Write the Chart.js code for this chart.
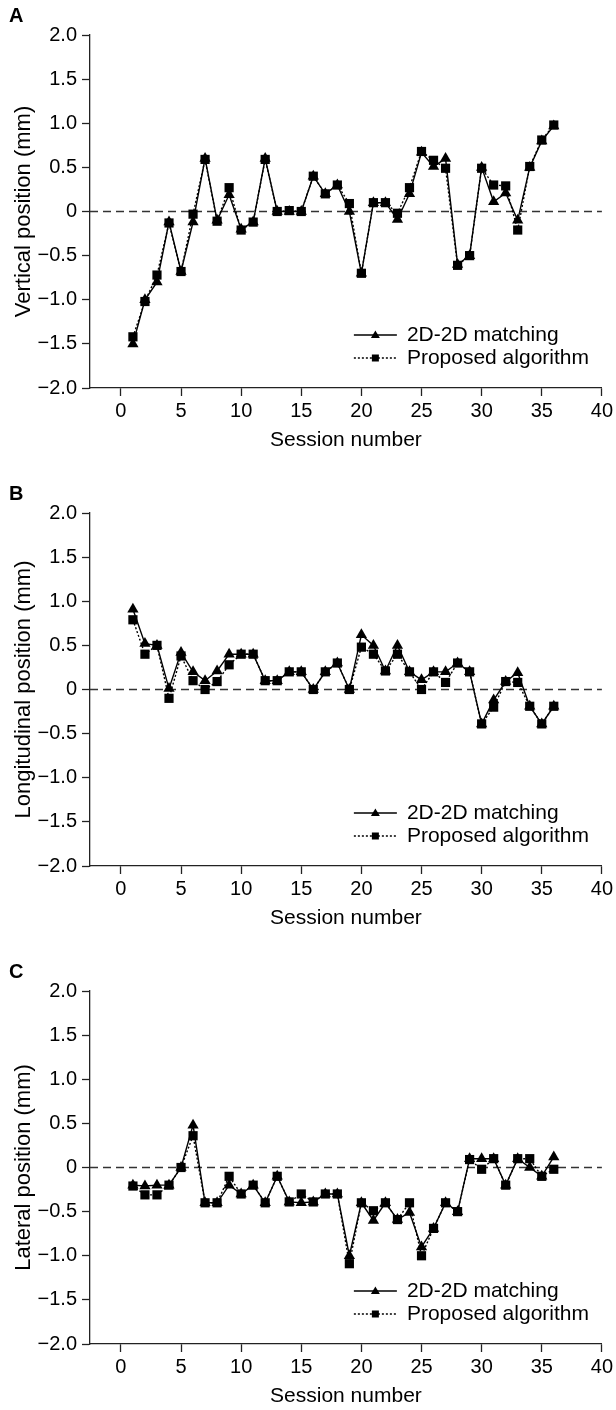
<!DOCTYPE html>
<html>
<head>
<meta charset="utf-8">
<script src="https://cdn.jsdelivr.net/npm/chart.js@4.4.0/dist/chart.umd.min.js"></script>
<style>
    html, body { margin: 0; padding: 0; background: #fff; overflow: hidden; }
    .panel { position: absolute; left: 0; width: 616px; height: 454px; }
</style>
</head>
<body>
<div class="panel" style="top:0"><canvas id="chartA"></canvas></div>
<div class="panel" style="top:478px"><canvas id="chartB"></canvas></div>
<div class="panel" style="top:956px"><canvas id="chartC"></canvas></div>
<script>
const sessions = [1, 2, 3, 4, 5, 6, 7, 8, 9, 10, 11, 12, 13, 14, 15, 16, 17, 18,
    19, 20, 21, 22, 23, 24, 25, 26, 27, 28, 29, 30, 31, 32, 33, 34, 35, 36];

const xTicks = [0, 5, 10, 15, 20, 25, 30, 35, 40];
const yTickLabels = ['\u22122.0', '\u22121.5', '\u22121.0', '\u22120.5', '0', '0.5', '1.0', '1.5', '2.0'];

const seriesNames = ['2D-2D matching', 'Proposed algorithm'];

// A - vertical
const verticalMatching = [-1.5, -1.0, -0.8, -0.12, -0.68, -0.12, 0.6, -0.1, 0.19, -0.2, -0.12, 0.6,
    0, 0, 0, 0.4, 0.2, 0.3, 0, -0.7, 0.1, 0.1, -0.09, 0.2,
    0.67, 0.51, 0.6, -0.6, -0.5, 0.5, 0.11, 0.21, -0.1, 0.5, 0.8, 0.97];
const verticalProposed = [-1.42, -1.02, -0.72, -0.13, -0.68, -0.03, 0.59, -0.11, 0.27, -0.21, -0.12, 0.59,
    0, 0.01, 0, 0.4, 0.2, 0.3, 0.09, -0.7, 0.1, 0.1, -0.02, 0.27,
    0.68, 0.58, 0.49, -0.61, -0.5, 0.49, 0.3, 0.29, -0.21, 0.51, 0.81, 0.98];

// B - longitudinal
const longitudinalMatching = [0.91, 0.52, 0.5, 0.01, 0.42, 0.2, 0.1, 0.21, 0.4, 0.4, 0.4, 0.1,
    0.1, 0.2, 0.2, 0, 0.2, 0.3, 0, 0.62, 0.5, 0.21, 0.5, 0.2,
    0.11, 0.2, 0.2, 0.3, 0.2, -0.39, -0.12, 0.09, 0.19, -0.19, -0.39, -0.19];
const longitudinalProposed = [0.79, 0.4, 0.5, -0.1, 0.38, 0.1, 0, 0.09, 0.28, 0.4, 0.4, 0.1,
    0.1, 0.2, 0.2, 0, 0.2, 0.3, 0, 0.48, 0.4, 0.21, 0.4, 0.2,
    0, 0.2, 0.08, 0.3, 0.2, -0.39, -0.2, 0.09, 0.08, -0.19, -0.39, -0.19];

// C - lateral
const lateralMatching = [-0.2, -0.21, -0.2, -0.2, 0, 0.48, -0.4, -0.4, -0.2, -0.3, -0.2, -0.4,
    -0.1, -0.39, -0.4, -0.39, -0.3, -0.3, -1.0, -0.4, -0.6, -0.4, -0.59, -0.51,
    -0.9, -0.69, -0.4, -0.5, 0.1, 0.1, 0.1, -0.2, 0.1, 0, -0.1, 0.12];
const lateralProposed = [-0.21, -0.31, -0.31, -0.2, 0, 0.36, -0.4, -0.4, -0.1, -0.3, -0.2, -0.4,
    -0.1, -0.39, -0.3, -0.39, -0.3, -0.3, -1.09, -0.4, -0.49, -0.4, -0.59, -0.4,
    -1.0, -0.69, -0.4, -0.5, 0.09, -0.02, 0.1, -0.2, 0.1, 0.1, -0.1, -0.02];

const fontFamily = '"Liberation Sans", Arial, Helvetica, sans-serif';
const axisColor = '#222';

// dashed line at y = 0
const zeroLine = {
    id: 'zeroLine',
    beforeDatasetsDraw(chart) {
        const {ctx, chartArea, scales} = chart;
        const y = scales.y.getPixelForValue(0);
        ctx.save();
        ctx.strokeStyle = '#333';
        ctx.lineWidth = 1.3;
        ctx.setLineDash([8, 5]);
        ctx.beginPath();
        ctx.moveTo(chartArea.left, y);
        ctx.lineTo(chartArea.right, y);
        ctx.stroke();
        ctx.restore();
    }
};

function drawMarker(ctx, style, x, y) {
    ctx.beginPath();
    if (style === 'triangle') {
        ctx.moveTo(x, y - 4.5);
        ctx.lineTo(x + 4.5, y + 3);
        ctx.lineTo(x - 4.5, y + 3);
        ctx.closePath();
    } else {
        ctx.rect(x - 3.5, y - 3.5, 7, 7);
    }
    ctx.fill();
}

// panel letter and legend inside the plot
const panelDecor = {
    id: 'panelDecor',
    afterDraw(chart, args, opts) {
        const {ctx, chartArea} = chart;
        ctx.save();
        ctx.fillStyle = '#000';
        ctx.font = 'bold 20px ' + fontFamily;
        ctx.textAlign = 'left';
        ctx.textBaseline = 'middle';
        ctx.fillText(opts.letter, 9, 16);

        const x0 = chartArea.right - 248;
        const x1 = chartArea.right - 205;
        const rows = [
            {y: chartArea.bottom - 53, dash: [], marker: 'triangle'},
            {y: chartArea.bottom - 30, dash: [2, 2], marker: 'rect'}
        ];
        rows.forEach((row, i) => {
            ctx.strokeStyle = '#000';
            ctx.lineWidth = 1.4;
            ctx.setLineDash(row.dash);
            ctx.beginPath();
            ctx.moveTo(x0, row.y);
            ctx.lineTo(x1, row.y);
            ctx.stroke();
            ctx.setLineDash([]);
            drawMarker(ctx, row.marker, (x0 + x1) / 2, row.y);
            ctx.font = '21px ' + fontFamily;
            ctx.fillText(seriesNames[i], chartArea.right - 195, row.y);
        });
        ctx.restore();
    }
};

function makePanel(id, letter, yTitle, matching, proposed) {
    const ctx = document.getElementById(id).getContext('2d');
    new Chart(ctx, {
        type: 'line',
        data: {
            datasets: [{
                label: seriesNames[0],
                data: sessions.map((s, i) => ({x: s, y: matching[i]})),
                borderColor: '#000',
                borderWidth: 1.4,
                pointStyle: 'triangle',
                pointRadius: 6.5,
                pointBackgroundColor: '#000',
                pointBorderColor: '#000',
                pointBorderWidth: 0,
                order: 1
            }, {
                label: seriesNames[1],
                data: sessions.map((s, i) => ({x: s, y: proposed[i]})),
                borderColor: '#000',
                borderWidth: 1.4,
                borderDash: [2, 2],
                pointStyle: 'rect',
                pointRadius: 6.5,
                pointBackgroundColor: '#000',
                pointBorderColor: '#000',
                pointBorderWidth: 0,
                order: 0
            }]
        },
        options: {
            responsive: true,
            maintainAspectRatio: false,
            animation: false,
            layout: {padding: {top: 35, right: 13, left: 0, bottom: 0}},
            scales: {
                x: {
                    type: 'linear',
                    min: -2.57,
                    max: 40,
                    afterBuildTicks: scale => {
                        scale.ticks = xTicks.map(v => ({value: v}));
                    },
                    afterFit: scale => {
                        scale.height = 66;
                    },
                    grid: {drawOnChartArea: false, tickLength: 8, tickColor: axisColor, tickWidth: 1.3},
                    border: {color: axisColor, width: 1.3},
                    ticks: {color: '#000', font: {family: fontFamily, size: 20}, padding: 3, maxRotation: 0},
                    title: {
                        display: true,
                        text: 'Session number',
                        color: '#000',
                        font: {family: fontFamily, size: 21},
                        padding: {top: 2, bottom: 1}
                    }
                },
                y: {
                    min: -2,
                    max: 2,
                    afterFit: scale => {
                        scale.width = 90;
                    },
                    grid: {drawOnChartArea: false, tickLength: 8, tickColor: axisColor, tickWidth: 1.3},
                    border: {color: axisColor, width: 1.3},
                    ticks: {
                        stepSize: 0.5,
                        color: '#000',
                        font: {family: fontFamily, size: 20},
                        padding: 5,
                        callback: (value, index) => yTickLabels[index]
                    },
                    title: {
                        display: true,
                        text: yTitle,
                        color: '#000',
                        font: {family: fontFamily, size: 22},
                        padding: {top: 11, bottom: 0}
                    }
                }
            },
            plugins: {
                legend: {display: false},
                tooltip: {enabled: false},
                panelDecor: {letter: letter}
            }
        },
        plugins: [zeroLine, panelDecor]
    });
}

makePanel('chartA', 'A', 'Vertical position (mm)', verticalMatching, verticalProposed);
makePanel('chartB', 'B', 'Longitudinal position (mm)', longitudinalMatching, longitudinalProposed);
makePanel('chartC', 'C', 'Lateral position (mm)', lateralMatching, lateralProposed);
</script>
</body>
</html>
